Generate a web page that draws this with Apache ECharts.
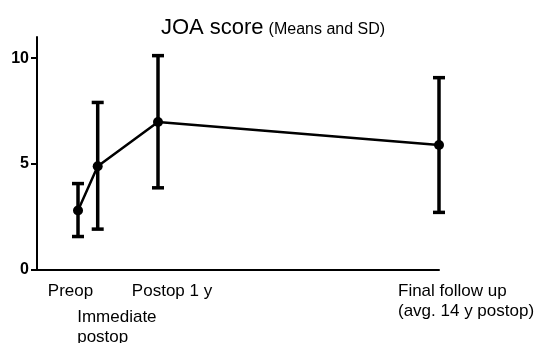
<!DOCTYPE html>
<html><head><meta charset="utf-8">
<script src="https://cdn.jsdelivr.net/npm/echarts@6/dist/echarts.min.js"></script>
<style>html,body{margin:0;padding:0;background:#fff}#c{width:536px;height:343px}</style>
</head><body><div id="c"></div>
<script>
// Timepoints (positions along the follow-up axis, arbitrary units 0-100)
var timepoints = ['Preop', 'Immediate postop', 'Postop 1 y', 'Final follow up'];
var positions = [10.2, 15.1, 30.1, 100];
var means = [2.81, 4.9, 6.99, 5.9];
var sdLow = [1.58, 1.93, 3.88, 2.72];
var sdHigh = [4.08, 7.91, 10.12, 9.08];
// x tick labels, where they start, and which label row they sit in
var xLabelText = ['Preop', 'Immediate\npostop', 'Postop 1 y', 'Final follow up\n(avg. 14 y postop)'];
var xLabelPos = [2.7, 10.0, 23.6, 89.8];
var xLabelRow = [0, 1, 0, 0];
var yTicks = [0, 5, 10];

var FONT = 'Liberation Sans, Arial, sans-serif';
var chart = echarts.init(document.getElementById('c'));
var lineData = positions.map(function (p, i) { return [p, means[i]]; });
var errData = positions.map(function (p, i) { return [p, sdLow[i], sdHigh[i]]; });

function rowAxis(row, margin, showLine) {
  var vals = xLabelPos.filter(function (p, i) { return xLabelRow[i] === row; });
  return {
    type: 'value', min: 0, max: 100, position: 'bottom',
    splitLine: { show: false },
    axisLine: { show: showLine, lineStyle: { color: '#000', width: 2 } },
    axisTick: { show: false },
    axisLabel: {
      customValues: vals, margin: margin, align: 'left', hideOverlap: false,
      showMinLabel: true, showMaxLabel: true,
      fontFamily: FONT, fontSize: 17, color: '#000', lineHeight: 20,
      formatter: function (v) {
        var i = xLabelPos.indexOf(v);
        return i < 0 ? '' : xLabelText[i];
      }
    }
  };
}

chart.setOption({
  animation: false,
  title: {
    text: '{a|JOA score} {b|(Means and SD)}',
    left: 268, top: 12, textAlign: 'center',
    textStyle: { fontWeight: 'normal', rich: {
      a: { fontFamily: FONT, fontSize: 22, fontWeight: 'normal', color: '#000', verticalAlign: 'bottom' },
      b: { fontFamily: FONT, fontSize: 16, fontWeight: 'normal', color: '#000', verticalAlign: 'bottom', padding: [0,0,1,0] }
    } }
  },
  grid: { left: 37, right: 97, top: 37, bottom: 73, outerBoundsMode: 'none', containLabel: false },
  xAxis: [rowAxis(0, 11, true), rowAxis(1, 37, false)],
  yAxis: {
    type: 'value', min: 0, max: 11,
    splitLine: { show: false },
    axisLine: { lineStyle: { color: '#000', width: 2 } },
    axisTick: { show: true, customValues: yTicks, length: 6, lineStyle: { color: '#000', width: 2 } },
    axisLabel: { customValues: yTicks, margin: 8, fontFamily: FONT, fontSize: 16, fontWeight: 'bold', color: '#000' }
  },
  series: [
    {
      type: 'custom',
      data: errData,
      z: 3,
      renderItem: function (params, api) {
        var x = api.value(0);
        var lo = api.coord([x, api.value(1)]);
        var hi = api.coord([x, api.value(2)]);
        var hw = 6;
        var st = { stroke: '#000', lineWidth: 3.5, fill: null };
        return { type: 'group', children: [
          { type: 'line', shape: { x1: lo[0], y1: lo[1], x2: hi[0], y2: hi[1] }, style: st },
          { type: 'line', shape: { x1: lo[0] - hw, y1: lo[1], x2: lo[0] + hw, y2: lo[1] }, style: st },
          { type: 'line', shape: { x1: hi[0] - hw, y1: hi[1], x2: hi[0] + hw, y2: hi[1] }, style: st }
        ] };
      }
    },
    {
      type: 'line',
      data: lineData,
      z: 4,
      symbol: 'circle', symbolSize: 10,
      lineStyle: { color: '#000', width: 2.5 },
      itemStyle: { color: '#000' }
    }
  ]
});
</script></body></html>
